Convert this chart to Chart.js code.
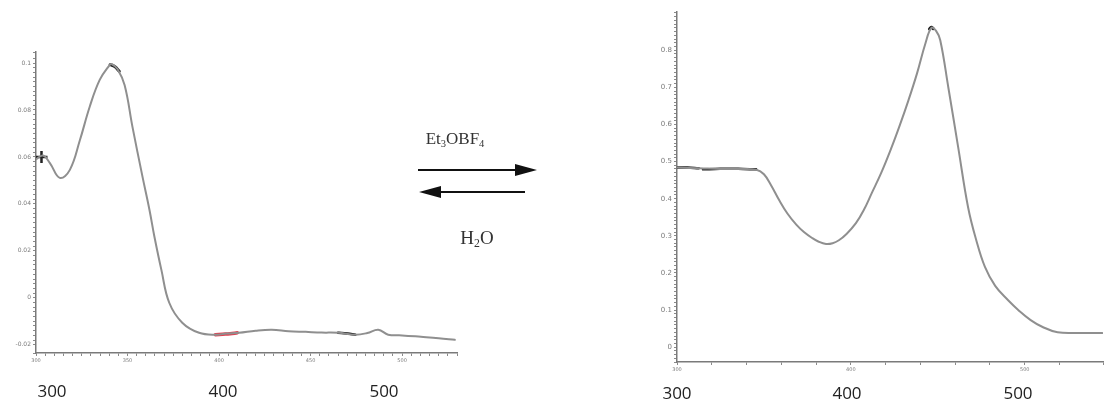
<!DOCTYPE html>
<html>
<head>
<meta charset="utf-8">
<script src="https://cdn.jsdelivr.net/npm/chart.js@4/dist/chart.umd.min.js"></script>
<style>
  html, body { margin: 0; padding: 0; background: #fff; }
  body { width: 1105px; height: 402px; position: relative; overflow: hidden; }
  .box { position: absolute; }
  .nm { position: absolute; font-family: "Open Sans", sans-serif; font-size: 17px; color: #222; transform: translateX(-50%); line-height: 1; }
  .rx { position: absolute; font-family: "Liberation Serif", serif; color: #333; transform: translateX(-50%); line-height: 1; white-space: nowrap; }
  .rx sub { font-size: 62%; vertical-align: -0.25em; line-height: 0; }
</style>
</head>
<body>
<div class="box" style="left:0;top:0;width:470px;height:402px"><canvas id="before"></canvas></div>
<div class="box" style="left:600px;top:0;width:505px;height:402px"><canvas id="after"></canvas></div>

<svg class="box" style="left:0;top:0" width="1105" height="402">
  <line x1="418" y1="170" x2="520" y2="170" stroke="#111" stroke-width="2.2"/>
  <polygon points="537,170 515,164 515,176" fill="#111"/>
  <line x1="436" y1="192" x2="525" y2="192" stroke="#111" stroke-width="2.2"/>
  <polygon points="419,192 441,186 441,198" fill="#111"/>
</svg>

<div class="rx" style="left:455px;top:130px;font-size:17px">Et<sub>3</sub>OBF<sub>4</sub></div>
<div class="rx" style="left:477px;top:228px;font-size:19px">H<sub>2</sub>O</div>

<div class="nm" style="left:52px;top:382px">300</div>
<div class="nm" style="left:223px;top:382px">400</div>
<div class="nm" style="left:384px;top:382px">500</div>
<div class="nm" style="left:677px;top:384px">300</div>
<div class="nm" style="left:847px;top:384px">400</div>
<div class="nm" style="left:1018px;top:384px">500</div>

<script>
// Spectrum before adding Et3OBF4 (wavelength in nm, absorbance)
const beforeNm  = [299.5, 303.8, 307.6, 313.0, 318.5, 324.0, 329.3, 334.8, 340.2, 341.3, 344.5, 348.4, 352.7, 358.2, 362.0, 364.7, 368.5, 372.8, 379.9, 389.1, 398.4, 404.0, 410.9, 420.0, 428.8, 438.0, 447.3, 456.0, 465.2, 474.5, 481.0, 487.0, 492.4, 500.0, 510.3, 520.0, 528.8];
const beforeAbs = [0.0587, 0.0606, 0.0574, 0.0511, 0.0545, 0.0672, 0.0813, 0.0928, 0.0991, 0.0996, 0.0975, 0.0906, 0.0728, 0.0515, 0.0374, 0.0260, 0.0119, -0.0021, -0.0106, -0.0149, -0.0157, -0.0152, -0.0149, -0.0140, -0.0136, -0.0142, -0.0145, -0.0148, -0.0149, -0.0157, -0.0150, -0.0136, -0.0157, -0.0160, -0.0166, -0.0172, -0.0179];

// Cursor marks on the first spectrum
const beforeMarkNm   = [340.5, 343.0, 345.5];
const beforeMarkAbs  = [0.0993, 0.0985, 0.0965];
const beforeRedNm    = [398.0, 402.0, 406.0, 410.0];
const beforeRedAbs   = [-0.0157, -0.0155, -0.0153, -0.0149];
const beforeBlackNm  = [465.0, 470.0, 474.5];
const beforeBlackAbs = [-0.0149, -0.0152, -0.0157];
const beforeCrossNm  = [303.0];
const beforeCrossAbs = [0.0600];

// Spectrum after adding Et3OBF4
const afterNm  = [300.0, 313.1, 324.6, 336.0, 345.7, 350.0, 354.0, 358.9, 363.5, 368.6, 373.0, 377.7, 381.5, 385.7, 389.5, 393.1, 397.5, 402.9, 407.5, 412.0, 417.5, 423.4, 428.0, 433.1, 438.0, 442.9, 446.3, 449.0, 451.4, 456.0, 461.7, 467.4, 472.0, 477.1, 483.0, 490.3, 497.0, 503.4, 510.0, 518.9, 530.0, 544.6];
const afterAbs = [0.484, 0.482, 0.480, 0.480, 0.478, 0.466, 0.437, 0.395, 0.360, 0.330, 0.310, 0.294, 0.284, 0.278, 0.280, 0.288, 0.305, 0.334, 0.370, 0.415, 0.470, 0.538, 0.596, 0.665, 0.737, 0.819, 0.860, 0.852, 0.827, 0.701, 0.539, 0.377, 0.290, 0.216, 0.165, 0.127, 0.097, 0.073, 0.055, 0.040, 0.038, 0.038];

// Cursor marks on the second spectrum
const afterFlatNm  = [300.0, 306.0, 312.5, null, 315.0, 322.0, 330.0, 338.0, 345.5];
const afterFlatAbs = [0.484, 0.484, 0.482, null, 0.479, 0.480, 0.481, 0.480, 0.479];
const afterPeakNm  = [445.2, 446.3, 447.4];
const afterPeakAbs = [0.857, 0.862, 0.858];

// Tick labels
const beforeYLabels = [-0.02, 0, 0.02, 0.04, 0.06, 0.08, 0.1];
const beforeXLabels = [300, 350, 400, 450, 500];
const afterYLabels  = [0, 0.1, 0.2, 0.3, 0.4, 0.5, 0.6, 0.7, 0.8];
const afterXLabels  = [300, 400, 500];

const pts = (xs, ys) => xs.map((x, i) => (x === null ? { x: NaN, y: null } : { x: x, y: ys[i] }));
const hasLabel = (list, v) => list.some(l => Math.abs(l - v) < 1e-7);
const fmt = v => String(Math.round(v * 1000) / 1000);

function curve(xs, ys, color, width) {
  return {
    data: pts(xs, ys), borderColor: color, borderWidth: width, pointRadius: 0,
    tension: 0.4, fill: false, spanGaps: false
  };
}

function axisCommon(labels, tickFont) {
  return {
    type: 'linear',
    border: { display: true, color: '#7a7a7a', width: 1.5 },
    grid: { drawOnChartArea: false, drawTicks: true, tickLength: 3, color: '#8a8a8a', lineWidth: 1 },
    ticks: {
      autoSkip: false, maxRotation: 0, padding: 2,
      color: '#7a7a7a', font: { family: 'DejaVu Sans', size: tickFont },
      callback: v => (hasLabel(labels, v) ? fmt(v) : '')
    }
  };
}

// Pin the plot area to fixed pixel edges inside each canvas
function fixWidth(w) { return s => { s.width = w; }; }
function fixHeight(h) { return s => { s.height = h; }; }

const baseOpts = {
  responsive: true, maintainAspectRatio: false, animation: false,
  plugins: { legend: { display: false }, tooltip: { enabled: false } },
  elements: { line: { borderCapStyle: 'round', borderJoinStyle: 'round' } }
};

new Chart(document.getElementById('before'), {
  type: 'line',
  data: {
    datasets: [
      curve(beforeNm, beforeAbs, '#8f8f8f', 2),
      curve(beforeMarkNm, beforeMarkAbs, '#222', 3),
      curve(beforeRedNm, beforeRedAbs, '#e04050', 3.5),
      curve(beforeBlackNm, beforeBlackAbs, '#111', 2.5),
      { data: pts(beforeCrossNm, beforeCrossAbs), showLine: false, pointStyle: 'cross',
        pointRadius: 6, pointBorderWidth: 2.5, pointBorderColor: '#222' }
    ]
  },
  options: Object.assign({}, baseOpts, {
    layout: { padding: { left: 0, top: 52, right: 13, bottom: 0 } },
    scales: {
      x: Object.assign(axisCommon(beforeXLabels, 5), {
        min: 300, max: 530, afterFit: fixHeight(49),
        ticks: Object.assign(axisCommon(beforeXLabels, 5).ticks, { stepSize: 5 })
      }),
      y: Object.assign(axisCommon(beforeYLabels, 6), {
        min: -0.0235, max: 0.1047, afterFit: fixWidth(36),
        ticks: Object.assign(axisCommon(beforeYLabels, 6).ticks, { stepSize: 0.002 })
      })
    }
  })
});

new Chart(document.getElementById('after'), {
  type: 'line',
  data: {
    datasets: [
      curve(afterNm, afterAbs, '#8f8f8f', 2),
      curve(afterFlatNm, afterFlatAbs, '#1a1a1a', 2.5),
      curve(afterPeakNm, afterPeakAbs, '#1a1a1a', 3)
    ]
  },
  options: Object.assign({}, baseOpts, {
    layout: { padding: { left: 0, top: 12, right: 0, bottom: 0 } },
    scales: {
      x: Object.assign(axisCommon(afterXLabels, 5), {
        min: 300, max: 545, afterFit: fixHeight(40),
        ticks: Object.assign(axisCommon(afterXLabels, 5).ticks, { stepSize: 20 })
      }),
      y: Object.assign(axisCommon(afterYLabels, 7), {
        min: -0.04, max: 0.903, afterFit: fixWidth(77),
        ticks: Object.assign(axisCommon(afterYLabels, 7).ticks, { stepSize: 0.01 })
      })
    }
  })
});
</script>
</body>
</html>
